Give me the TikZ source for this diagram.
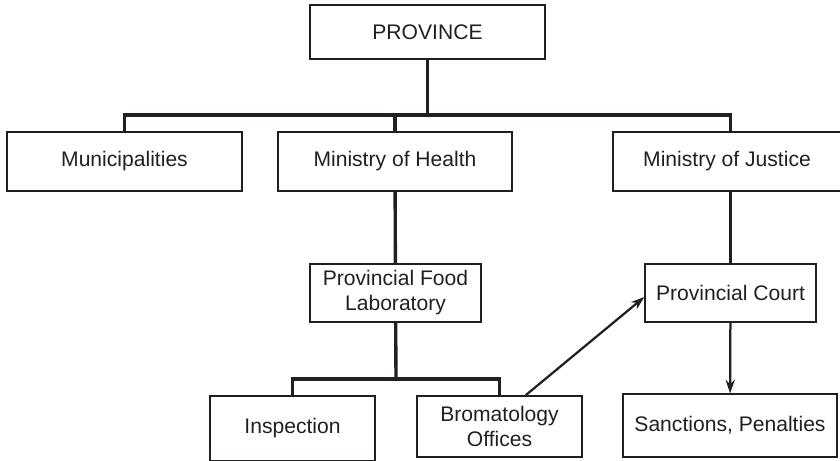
\documentclass[tikz,border=0pt]{standalone}
\usepackage{fontspec}
\setmainfont{Liberation Sans}
\usetikzlibrary{arrows.meta, positioning, calc}
\definecolor{ink}{HTML}{231F20}

\begin{document}
\begin{tikzpicture}[
    x=0.025cm, y=-0.025cm,
    box/.style={draw=ink, line width=0.9pt, text=ink, align=center, inner sep=0pt,
                font=\fontsize{15}{17.8}\selectfont},
    tree/.style={draw=ink, line width=2.4pt},
    arr/.style={draw=ink, line width=1.6pt, -{Stealth[length=3.4mm, width=2.3mm]}}
]
\useasboundingbox (0,0) rectangle (840,460);
\clip (0,0) rectangle (840,460);

% top level
\node[box, minimum width=5.875cm, minimum height=1.35cm] (prov) at (427.5,32) {PROVINCE};
\node[box, minimum width=5.875cm, minimum height=1.475cm] (muni) at (124.5,161.5) {Municipalities};
\node[box, minimum width=5.85cm, minimum height=1.475cm] (health) at (395,161.5) {Ministry of Health};
\node[box, minimum width=5.7cm, minimum height=1.475cm] (justice) at (727,161.5) {Ministry of Justice};

% second level
\node[box, minimum width=4.275cm, minimum height=1.45cm] (lab) at (395.5,293) {Provincial Food\\Laboratory};
\node[box, minimum width=4.275cm, minimum height=1.45cm] (court) at (730.5,293) {Provincial Court};

% bottom level
\node[box, minimum width=4.125cm, minimum height=1.625cm] (insp) at (292.5,428.5) {Inspection};
\node[box, minimum width=4.125cm, minimum height=1.525cm] (brom) at (499.5,426.5) {Bromatology\\Offices};
\node[box, minimum width=5.35cm, minimum height=1.575cm] (sanc) at (730,425.5) {Sanctions, Penalties};

\coordinate (bus) at (427.5,115);
\coordinate (lbus) at (396,379);

\draw[tree] (prov) -- (bus);
\draw[tree] (muni.north) |- (bus) -| (justice.north -| court.north);
\draw[tree] (health.north) -- (health.north |- bus);
\draw[tree] (health) -- (lab);
\draw[tree] (justice.south -| court.north) -- (court.north);
\draw[tree] (lab) -- (lbus);
\draw[tree] (insp.north) |- (lbus) -| (brom.north);

\draw[arr] ([xshift=0.65cm]brom.north) -- ([yshift=-0.1cm]court.west);
\draw[arr] (court) -- (sanc);
\end{tikzpicture}
\end{document}
